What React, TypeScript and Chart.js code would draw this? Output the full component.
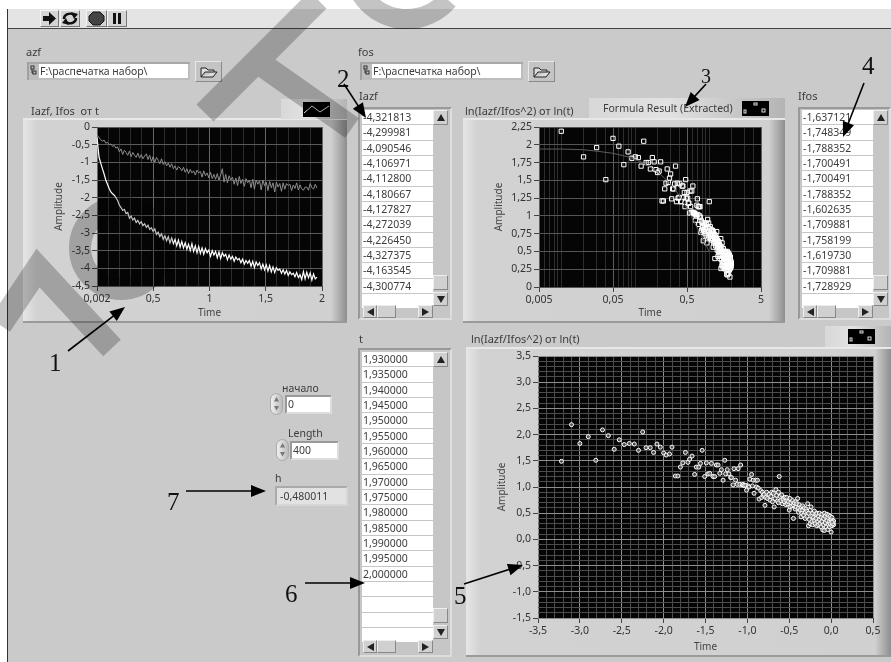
import React, { useEffect, useRef } from "react";
import { Chart, registerables } from "chart.js";
Chart.register(...registerables);

// ---------- data: first graph ----------
const timeValues = [
  0.002,0.02,0.035,0.05,0.065,0.08,0.095,0.11,0.125,0.14,
  0.155,0.17,0.185,0.2,0.215,0.23,0.245,0.26,0.275,0.29,
  0.305,0.32,0.335,0.35,0.365,0.38,0.395,0.41,0.425,0.44,
  0.455,0.47,0.485,0.5,0.515,0.53,0.545,0.56,0.575,0.59,
  0.605,0.62,0.635,0.65,0.665,0.68,0.695,0.71,0.725,0.74,
  0.755,0.77,0.785,0.8,0.815,0.83,0.845,0.86,0.875,0.89,
  0.905,0.92,0.935,0.95,0.965,0.98,0.995,1.01,1.025,1.04,
  1.055,1.07,1.085,1.1,1.115,1.13,1.145,1.16,1.175,1.19,
  1.205,1.22,1.235,1.25,1.265,1.28,1.295,1.31,1.325,1.34,
  1.355,1.37,1.385,1.4,1.415,1.43,1.445,1.46,1.475,1.49,
  1.505,1.52,1.535,1.55,1.565,1.58,1.595,1.61,1.625,1.64,
  1.655,1.67,1.685,1.7,1.715,1.73,1.745,1.76,1.775,1.79,
  1.805,1.82,1.835,1.85,1.865,1.88,1.895,1.91,1.925,1.94,
  1.955,
];
const iazfCurve = [
  -0.30,-0.85,-1.02,-1.18,-1.33,-1.50,-1.62,-1.74,-1.84,-1.89,
  -1.93,-2.0,-2.08,-2.21,-2.28,-2.36,-2.33,-2.45,-2.42,-2.58,
  -2.52,-2.63,-2.58,-2.70,-2.64,-2.74,-2.68,-2.79,-2.74,-2.84,
  -2.78,-2.90,-2.85,-2.95,-2.88,-3.04,-2.98,-3.10,-3.02,-3.18,
  -3.08,-3.22,-3.10,-3.28,-3.14,-3.30,-3.18,-3.36,-3.20,-3.40,
  -3.24,-3.42,-3.28,-3.46,-3.32,-3.50,-3.30,-3.52,-3.36,-3.56,
  -3.38,-3.58,-3.42,-3.60,-3.44,-3.56,-3.48,-3.66,-3.50,-3.62,
  -3.52,-3.70,-3.54,-3.72,-3.56,-3.66,-3.60,-3.76,-3.62,-3.74,
  -3.66,-3.80,-3.68,-3.76,-3.72,-3.84,-3.74,-3.88,-3.78,-3.86,
  -3.78,-3.94,-3.80,-3.98,-3.82,-3.92,-3.84,-4.02,-3.88,-4.04,
  -3.90,-4.08,-3.92,-4.10,-3.96,-4.12,-3.98,-4.06,-4.02,-4.14,
  -4.04,-4.16,-4.06,-4.20,-4.10,-4.18,-4.14,-4.24,-4.12,-4.26,
  -4.18,-4.32,-4.09,-4.30,-4.11,-4.27,-4.13,-4.33,-4.16,-4.30,
  -4.25,
];
const ifosCurve = [
  -0.22,-0.30,-0.36,-0.40,-0.37,-0.46,-0.43,-0.50,-0.48,-0.55,
  -0.52,-0.60,-0.56,-0.70,-0.62,-0.78,-0.66,-0.72,-0.80,-0.68,
  -0.84,-0.72,-0.80,-0.86,-0.74,-0.88,-0.78,-0.90,-0.82,-0.76,
  -0.92,-0.80,-0.98,-0.84,-1.0,-0.86,-0.94,-1.04,-0.90,-1.06,
  -0.98,-1.10,-1.02,-1.14,-1.04,-1.18,-1.10,-1.22,-1.12,-1.16,
  -1.24,-1.14,-1.28,-1.18,-1.32,-1.20,-1.30,-1.24,-1.36,-1.22,
  -1.30,-1.26,-1.42,-1.24,-1.38,-1.30,-1.44,-1.28,-1.46,-1.34,
  -1.48,-1.32,-1.50,-1.36,-1.18,-1.56,-1.34,-1.58,-1.38,-1.50,
  -1.42,-1.62,-1.44,-1.66,-1.40,-1.60,-1.48,-1.68,-1.46,-1.58,
  -1.50,-1.72,-1.48,-1.76,-1.50,-1.62,-1.52,-1.78,-1.50,-1.66,
  -1.56,-1.80,-1.54,-1.72,-1.58,-1.84,-1.56,-1.70,-1.60,-1.82,
  -1.58,-1.76,-1.60,-1.66,-1.62,-1.80,-1.64,-1.74,-1.58,-1.78,
  -1.64,-1.75,-1.79,-1.70,-1.70,-1.79,-1.60,-1.71,-1.76,-1.62,
  -1.73,
];
const graph1XTicks = [0.002,0.1,0.2,0.3,0.4,0.5,0.6,0.7,0.8,0.9,1,1.1,1.2,1.3,1.4,1.5,1.6,1.7,1.8,1.9,2];
const graph1XMajor = [0.002,0.5,1,1.5,2];
const graph1YTicks = [0,-0.5,-1,-1.5,-2,-2.5,-3,-3.5,-4,-4.5];

// ---------- data: the two scatter graphs share their amplitudes ----------
const ratioValues = [
  1.49,2.19,1.83,1.96,1.51,2.09,1.98,1.72,1.90,1.81,
  1.83,1.82,1.70,2.05,1.75,1.75,1.66,1.82,1.76,1.65,
  1.61,1.63,1.76,1.21,1.21,1.38,1.46,1.66,1.47,1.53,
  1.59,1.24,1.38,1.38,1.45,1.70,1.20,1.46,1.25,1.26,
  1.45,1.20,1.20,1.42,1.42,1.26,1.33,1.13,1.51,1.25,
  1.33,1.25,1.18,1.18,1.04,1.35,1.13,1.05,1.35,1.05,
  1.42,1.04,1.05,1.03,1.03,0.94,1.02,1.00,1.15,1.24,
  1.02,1.13,0.88,1.13,1.00,1.13,0.98,0.77,0.93,0.80,
  0.90,0.84,0.86,0.65,0.80,0.90,0.78,0.86,0.75,0.82,
  0.90,0.72,0.88,0.62,0.78,0.95,0.84,0.73,0.90,0.70,
  1.20,0.82,0.74,0.85,0.68,0.76,0.72,0.80,0.66,0.74,
  0.80,0.68,0.72,0.56,0.78,0.62,0.70,0.64,0.74,0.40,
  0.66,0.70,0.58,0.72,0.62,0.68,0.78,0.60,0.52,0.66,
  0.56,0.43,0.62,0.50,0.64,0.56,0.46,0.60,0.52,0.40,
  0.58,0.44,0.54,0.68,0.26,0.50,0.38,0.56,0.30,0.62,
  0.44,0.34,0.50,0.28,0.42,0.54,0.36,0.30,0.48,0.40,
  0.26,0.50,0.34,0.44,0.28,0.38,0.50,0.30,0.42,0.24,
  0.48,0.34,0.18,0.40,0.28,0.50,0.17,0.44,0.32,0.24,
  0.48,0.36,0.19,0.42,0.28,0.46,0.34,0.24,0.44,0.30,
  0.14,0.38,0.26,0.42,0.32,0.36,0.28,0.35,0.30,0.33,
];
const lnTimeValues = [
  -3.22,-3.10,-3.00,-2.90,-2.81,-2.73,-2.66,-2.59,-2.53,-2.47,
  -2.41,-2.35,-2.30,-2.25,-2.21,-2.16,-2.12,-2.08,-2.04,-2.00,
  -1.97,-1.93,-1.90,-1.86,-1.83,-1.80,-1.77,-1.74,-1.71,-1.69,
  -1.66,-1.63,-1.61,-1.58,-1.56,-1.54,-1.51,-1.49,-1.47,-1.45,
  -1.43,-1.41,-1.39,-1.37,-1.35,-1.33,-1.31,-1.29,-1.27,-1.26,
  -1.24,-1.22,-1.20,-1.19,-1.17,-1.16,-1.14,-1.12,-1.11,-1.09,
  -1.08,-1.06,-1.05,-1.04,-1.02,-1.01,-0.99,-0.98,-0.97,-0.95,
  -0.94,-0.93,-0.92,-0.90,-0.89,-0.88,-0.87,-0.86,-0.84,-0.83,
  -0.82,-0.81,-0.80,-0.79,-0.78,-0.77,-0.76,-0.74,-0.73,-0.72,
  -0.71,-0.70,-0.69,-0.68,-0.67,-0.66,-0.65,-0.64,-0.63,-0.63,
  -0.62,-0.61,-0.60,-0.59,-0.58,-0.57,-0.56,-0.55,-0.54,-0.53,
  -0.53,-0.52,-0.51,-0.50,-0.49,-0.49,-0.48,-0.47,-0.46,-0.45,
  -0.45,-0.44,-0.43,-0.42,-0.42,-0.41,-0.40,-0.39,-0.39,-0.38,
  -0.37,-0.36,-0.36,-0.35,-0.34,-0.34,-0.33,-0.32,-0.31,-0.31,
  -0.30,-0.29,-0.29,-0.28,-0.27,-0.27,-0.26,-0.25,-0.25,-0.24,
  -0.23,-0.23,-0.22,-0.22,-0.21,-0.20,-0.20,-0.19,-0.18,-0.18,
  -0.17,-0.17,-0.16,-0.15,-0.15,-0.14,-0.14,-0.13,-0.12,-0.12,
  -0.11,-0.11,-0.10,-0.09,-0.09,-0.08,-0.08,-0.07,-0.07,-0.06,
  -0.05,-0.05,-0.04,-0.04,-0.03,-0.03,-0.02,-0.02,-0.01,-0.01,
  0,0,0.01,0.01,0.02,0.02,0.03,0.03,0.02,0.01,
];
const logTimeValues = [
  null,0.01,0.02,0.03,0.04,0.05,0.06,0.07,0.08,0.09,
  0.1,0.11,0.12,0.13,0.14,0.15,0.16,0.17,0.18,0.19,
  0.2,0.21,0.22,0.23,0.24,0.25,0.26,0.27,0.28,0.29,
  0.3,0.31,0.32,0.33,0.34,0.35,0.36,0.37,0.38,0.39,
  0.4,0.41,0.42,0.43,0.44,0.45,0.46,0.47,0.48,0.49,
  0.5,0.51,0.52,0.53,0.54,0.55,0.56,0.57,0.58,0.59,
  0.6,0.61,0.62,0.63,0.64,0.65,0.66,0.67,0.68,0.69,
  0.7,0.71,0.72,0.73,0.74,0.75,0.76,0.77,0.78,0.79,
  0.8,0.81,0.82,0.83,0.84,0.85,0.86,0.87,0.88,0.89,
  0.9,0.91,0.92,0.93,0.94,0.95,0.96,0.97,0.98,0.99,
  1,1.01,1.02,1.03,1.04,1.05,1.06,1.07,1.08,1.09,
  1.1,1.11,1.12,1.13,1.14,1.15,1.16,1.17,1.18,1.19,
  1.2,1.21,1.22,1.23,1.24,1.25,1.26,1.27,1.28,1.29,
  1.3,1.31,1.32,1.33,1.34,1.35,1.36,1.37,1.38,1.39,
  1.4,1.41,1.42,1.43,1.44,1.45,1.46,1.47,1.48,1.49,
  1.5,1.51,1.52,1.53,1.54,1.55,1.56,1.57,1.58,1.59,
  1.6,1.61,1.62,1.63,1.64,1.65,1.66,1.67,1.68,1.69,
  1.7,1.71,1.72,1.73,1.74,1.75,1.76,1.77,1.78,1.79,
  1.8,1.81,1.82,1.83,1.84,1.85,1.86,1.87,1.88,1.89,
  1.9,1.91,1.92,1.93,1.94,1.95,1.96,1.97,1.98,1.99,
];
const fitTime = [0.005,0.01,0.02,0.03,0.05,0.08,0.12,0.2,0.3,0.4,0.6,1];
const fitValues = [1.94,1.94,1.93,1.91,1.88,1.83,1.76,1.62,1.45,1.28,0.95,0.5];
const graph2XTicks = [0.005,0.006,0.007,0.008,0.009,0.01,0.02,0.03,0.04,0.05,0.06,0.07,0.08,0.09,0.1,0.2,0.3,0.4,0.5,0.6,0.7,0.8,0.9,1,2,3,4,5];
const graph2XMajor = [0.005,0.05,0.5,5];
const graph2YTicks = [0,0.25,0.5,0.75,1,1.25,1.5,1.75,2,2.25];
const graph3XTicks = [-3.5,-3.4,-3.3,-3.2,-3.1,-3,-2.9,-2.8,-2.7,-2.6,-2.5,-2.4,-2.3,-2.2,-2.1,-2,-1.9,-1.8,-1.7,-1.6,-1.5,-1.4,-1.3,-1.2,-1.1,-1,-0.9,-0.8,-0.7,-0.6,-0.5,-0.4,-0.3,-0.2,-0.1,0,0.1,0.2,0.3,0.4,0.5];
const graph3XMajor = [-3.5,-3,-2.5,-2,-1.5,-1,-0.5,0,0.5];
const graph3YTicks = [3.5,3.4,3.3,3.2,3.1,3,2.9,2.8,2.7,2.6,2.5,2.4,2.3,2.2,2.1,2,1.9,1.8,1.7,1.6,1.5,1.4,1.3,1.2,1.1,1,0.9,0.8,0.7,0.6,0.5,0.4,0.3,0.2,0.1,0,-0.1,-0.2,-0.3,-0.4,-0.5,-0.6,-0.7,-0.8,-0.9,-1,-1.1,-1.2,-1.3,-1.4,-1.5];
const graph3YMajor = [3.5,3,2.5,2,1.5,1,0.5,0,-0.5,-1,-1.5];

// ---------- data: table contents ----------
const iazfRows = ["-4,321813","-4,299981","-4,090546","-4,106971","-4,112800","-4,180667","-4,127827","-4,272039","-4,226450","-4,327375","-4,163545","-4,300774",""];
const ifosRows = ["-1,637121","-1,748349","-1,788352","-1,700491","-1,700491","-1,788352","-1,602635","-1,709881","-1,758199","-1,619730","-1,709881","-1,728929",""];
const tRows = ["1,930000","1,935000","1,940000","1,945000","1,950000","1,955000","1,960000","1,965000","1,970000","1,975000","1,980000","1,985000","1,990000","1,995000","2,000000","","","",""];

const UI = '"Noto Sans", sans-serif';
const near = (list: number[], v: number) => list.some((m) => Math.abs(m - v) < 1e-6);
const comma = (v: number) => String(v).replace(".", ",");

const plotBg = {
  id: "plotBg",
  beforeDraw(c: any) {
    const a = c.chartArea;
    c.ctx.save();
    c.ctx.fillStyle = "#050505";
    c.ctx.fillRect(a.left, a.top, a.right - a.left, a.bottom - a.top);
    c.ctx.restore();
  },
};

function axis(opts: any) {
  const { pos, type, min, max, ticks, major, label, title, size, majorColor, minorColor, pad } = opts;
  return {
    type, position: pos, min, max,
    afterBuildTicks(s: any) { s.ticks = ticks.map((value: number) => ({ value })); },
    afterFit(s: any) { if (pos === "left") s.width = size; else s.height = size; },
    title: { display: true, text: title, color: "#444", padding: pad ?? { top: 2, bottom: 0 }, font: { family: UI, size: 10 } },
    border: { display: false },
    grid: {
      color: (c: any) => (near(major, c.tick?.value) ? majorColor : minorColor),
      tickColor: (c: any) => (near(major, c.tick?.value) ? "#444" : "rgba(0,0,0,0)"),
      tickLength: 5,
      lineWidth: 1,
    },
    ticks: {
      autoSkip: false, maxRotation: 0, minRotation: 0, padding: 2, color: "#333",
      font: { family: UI, size: 10.5 },
      callback: (v: any) => (near(major, Number(v)) ? label(Number(v)) : ""),
    },
  };
}

function baseOptions(padding: any, x: any, y: any) {
  return {
    animation: false, responsive: false,
    layout: { padding },
    plugins: { legend: { display: false }, tooltip: { enabled: false }, title: { display: false } },
    scales: { x, y },
  };
}

function PlotCanvas({ left, top, width, height, config }: any) {
  const ref = useRef<HTMLCanvasElement>(null);
  useEffect(() => {
    const chart = new Chart(ref.current as any, config);
    return () => chart.destroy();
  }, []);
  return <canvas ref={ref} width={width} height={height} style={{ position: "absolute", left, top, width, height }} />;
}

const graph1Config: any = {
  type: "line",
  plugins: [plotBg],
  data: {
    datasets: [
      { data: timeValues.map((x, i) => ({ x, y: ifosCurve[i] })), borderColor: "#8c8c8c", borderWidth: 1, pointRadius: 0, tension: 0 },
      { data: timeValues.map((x, i) => ({ x, y: iazfCurve[i] })), borderColor: "#ffffff", borderWidth: 1.2, pointRadius: 0, tension: 0 },
    ],
  },
  options: baseOptions(
    { left: 28, right: 25, top: 9, bottom: 4 },
    axis({ pos: "bottom", type: "linear", min: 0.002, max: 2, ticks: graph1XTicks, major: graph1XMajor, label: comma, title: "Time", size: 33, majorColor: "#666", minorColor: "#2c2c2c" }),
    axis({ pos: "left", type: "linear", min: -4.5, max: 0, ticks: graph1YTicks, major: graph1YTicks, label: comma, title: "Amplitude", size: 46, majorColor: "#5a5a5a", minorColor: "#5a5a5a" }),
  ),
};

const graph2Config: any = {
  type: "scatter",
  plugins: [plotBg],
  data: {
    datasets: [
      { type: "line", data: fitTime.map((x, i) => ({ x, y: fitValues[i] })), borderColor: "#5c5c5c", borderWidth: 1, pointRadius: 0, tension: 0 },
      { data: ratioValues.map((y, i) => ({ x: logTimeValues[i], y })), pointStyle: "rect", pointRadius: 3, borderColor: "#ffffff", borderWidth: 1, backgroundColor: "rgba(0,0,0,0)" },
    ],
  },
  options: baseOptions(
    { left: 28, right: 24, top: 9, bottom: 4 },
    axis({ pos: "bottom", type: "logarithmic", min: 0.005, max: 5, ticks: graph2XTicks, major: graph2XMajor, label: comma, title: "Time", size: 32, majorColor: "#5e5e5e", minorColor: "#2e2e2e" }),
    axis({ pos: "left", type: "linear", min: 0, max: 2.25, ticks: graph2YTicks, major: graph2YTicks, label: comma, title: "Amplitude", size: 48, majorColor: "#555", minorColor: "#555" }),
  ),
};

const graph3Config: any = {
  type: "scatter",
  plugins: [plotBg],
  data: {
    datasets: [
      { data: ratioValues.map((y, i) => ({ x: lnTimeValues[i], y })), pointStyle: "circle", pointRadius: 2, borderColor: "#ffffff", borderWidth: 1, backgroundColor: "rgba(100,100,100,0.7)" },
    ],
  },
  options: baseOptions(
    { left: 28, right: 18, top: 9, bottom: 4 },
    axis({ pos: "bottom", type: "linear", min: -3.5, max: 0.5, ticks: graph3XTicks, major: graph3XMajor, label: (v: number) => v.toFixed(1).replace(".", ","), title: "Time", size: 35, majorColor: "#8e8e8e", minorColor: "#4c4c4c" }),
    axis({ pos: "left", type: "linear", min: -1.5, max: 3.5, ticks: graph3YTicks, major: graph3YMajor, label: (v: number) => v.toFixed(1).replace(".", ","), title: "Amplitude", size: 44, majorColor: "#8e8e8e", minorColor: "#4c4c4c" }),
  ),
};

// ---------- front-panel pieces ----------
const abs = (left: number, top: number, width: number, height: number, extra: any = {}) => ({ position: "absolute", left, top, width, height, boxSizing: "border-box", ...extra });

function Label({ x, y, text, size = 11, color = "#3c3c3c" }: any) {
  return <div style={{ position: "absolute", left: x, top: y, font: `${size}px ${UI}`, lineHeight: "14px", color, whiteSpace: "pre" } as any}>{text}</div>;
}

function Panel({ x, y, w, h }: any) {
  return <div style={abs(x, y, w, h, { background: "linear-gradient(90deg,#e6e6e6 0,#d2d2d2 14px,#d0d0d0 calc(100% - 16px),#8e8e8e 100%)", borderTop: "2px solid #e8e8e8", borderBottom: "2px solid #9a9a9a" }) as any} />;
}

function LegendTab({ x, y, w, h, text, boxX, scatter }: any) {
  return (
    <div style={abs(x, y, w, h, { background: "linear-gradient(90deg,#d8d8d8,#e2e2e2 40%,#b4b4b4)", font: `10.5px ${UI}`, color: "#3c3c3c", lineHeight: h + "px", paddingLeft: 14 }) as any}>
      {text}
      <svg style={{ position: "absolute", left: boxX - x, top: 3, background: "#000" }} width={27} height={15}>
        {scatter ? (
          <g fill="none" stroke="#ddd"><rect x="20" y="8" width="3" height="3" /><rect x="12" y="2" width="3" height="2" /><rect x="2" y="9" width="2" height="3" /></g>
        ) : (
          <polyline points="1,11 9,4 17,10 26,4" fill="none" stroke="#ddd" />
        )}
      </svg>
    </div>
  );
}

function PathBox({ x, y }: any) {
  return (
    <>
      <div style={abs(x, y, 163, 18, { background: "#bdbdbd", borderLeft: "2px solid #a0a0a0", borderTop: "2px solid #a8a8a8" }) as any} />
      <div style={abs(x + 12, y + 2, 149, 14, { background: "#fff", font: `10.5px ${UI}`, color: "#3c3c3c", lineHeight: "14px", paddingLeft: 1, whiteSpace: "pre" }) as any}>F:\распечатка набор\</div>
      <svg style={{ position: "absolute", left: x + 3, top: y + 3 }} width={8} height={11}><g fill="none" stroke="#333"><rect x="1" y="1" width="3" height="3" /><rect x="3" y="6" width="3" height="3" /><path d="M2 4V8H3" /></g></svg>
      <div style={abs(x + 168, y - 1, 27, 21, { background: "#c4c4c4", borderTop: "1px solid #e8e8e8", borderLeft: "1px solid #e8e8e8", borderRight: "1px solid #8a8a8a", borderBottom: "1px solid #8a8a8a" }) as any}>
        <svg style={{ position: "absolute", left: 4, top: 4 }} width={18} height={12}><path d="M1 11V2H6L8 4H14V6H5L1 11H13L17 6H14" fill="#ddd" stroke="#222" /></svg>
      </div>
    </>
  );
}

function Tri({ x, y, dir, fill = "#222", size = 8 }: any) {
  const pts = dir === "up" ? "0,7 4,0 8,7" : dir === "down" ? "0,0 8,0 4,7" : dir === "left" ? "7,0 7,8 0,4" : "0,0 0,8 7,4";
  return <svg style={{ position: "absolute", left: x, top: y }} width={size} height={size} viewBox="0 0 8 8"><polygon points={pts} fill={fill} /></svg>;
}

function ListBox({ x, y, h, rows, rowsTop, thumbY, downY, hbarY, w = 94 }: any) {
  const btn = (l: number, t: number, ww: number, hh: number) => abs(l, t, ww, hh, { background: "#d0d0d0", borderTop: "1px solid #eee", borderLeft: "1px solid #eee", borderRight: "1px solid #888", borderBottom: "1px solid #888" });
  return (
    <>
      <div style={abs(x, y, w, h, { background: "#c6c6c6", borderTop: "2px solid #999", borderLeft: "2px solid #999", borderRight: "2px solid #ddd", borderBottom: "2px solid #ddd" }) as any} />
      {rows.map((t: string, i: number) => (
        <div key={i} style={abs(x + 4, rowsTop + i * 15.33, 71, 14.3, { background: "#fff", font: `10.5px ${UI}`, color: "#3c3c3c", lineHeight: "14px", paddingLeft: 1 }) as any}>{t}</div>
      ))}
      <div style={btn(x + 75, rowsTop, 15, 15) as any} /><Tri x={x + 79} y={rowsTop + 4} dir="up" />
      <div style={btn(x + 75, thumbY, 15, 15) as any} />
      <div style={btn(x + 75, downY, 15, 14) as any} /><Tri x={x + 79} y={downY + 4} dir="down" />
      <div style={btn(x + 5, hbarY, 14, 13) as any} /><Tri x={x + 9} y={hbarY + 3} dir="left" />
      <div style={btn(x + 19, hbarY, 19, 13) as any} />
      <div style={btn(x + 60, hbarY, 15, 13) as any} /><Tri x={x + 64} y={hbarY + 3} dir="right" />
    </>
  );
}

function NumBox({ x, y, w, text, spinX }: any) {
  return (
    <>
      <div style={abs(spinX, y - 2, 13, 22, { borderRadius: "7px", background: "linear-gradient(90deg,#f0f0f0,#bbb)", border: "1px solid #aaa" }) as any} />
      <Tri x={spinX + 4} y={y + 2} dir="up" fill="#777" size={5} />
      <Tri x={spinX + 4} y={y + 11} dir="down" fill="#777" size={5} />
      <div style={abs(x, y, w, 19, { background: "#fff", borderTop: "2px solid #999", borderLeft: "2px solid #999", borderRight: "2px solid #ddd", borderBottom: "2px solid #ddd", font: `10.5px ${UI}`, color: "#3c3c3c", lineHeight: "15px", paddingLeft: 1 }) as any}>{text}</div>
    </>
  );
}

function ToolBtn({ x, w, children }: any) {
  return <div style={abs(x, 10, w, 17, { background: "#d4d4d4", borderTop: "1px solid #f4f4f4", borderLeft: "1px solid #f4f4f4", borderRight: "1px solid #777", borderBottom: "1px solid #777" }) as any}>{children}</div>;
}

function Watermark() {
  return (
    <svg style={{ position: "absolute", left: 0, top: 0, mixBlendMode: "multiply" } as any} width={891} height={662}>
      <g fill="none" stroke="#c4c4c4">
        <path d="M205 113L318 0" strokeWidth={24} />
        <path d="M258 62L352 128" strokeWidth={24} />
        <circle cx={121} cy={248} r={41} strokeWidth={22} />
        <path d="M0 325L38 268L112 348" strokeWidth={24} />
        <path d="M360 -8A54 54 0 0 0 448 0" strokeWidth={20} />
      </g>
    </svg>
  );
}

function Annotations() {
  const serif: any = { fontFamily: '"Liberation Serif", serif', fontSize: 25, fill: "#111" };
  const arrow = (x1: number, y1: number, x2: number, y2: number, head = 15) => {
    const a = Math.atan2(y2 - y1, x2 - x1);
    const p = (d: number, s: number) => `${x2 - Math.cos(a) * d - Math.sin(a) * s},${y2 - Math.sin(a) * d + Math.cos(a) * s}`;
    return (
      <g>
        <line x1={x1} y1={y1} x2={x2 - Math.cos(a) * head * 0.8} y2={y2 - Math.sin(a) * head * 0.8} stroke="#000" strokeWidth={1.6} />
        <polygon points={`${x2},${y2} ${p(head, 6)} ${p(head, -6)}`} fill="#000" />
      </g>
    );
  };
  return (
    <svg style={{ position: "absolute", left: 0, top: 0 }} width={891} height={662}>
      <text x={49} y={371} style={serif}>1</text>{arrow(68, 351, 125, 307)}
      <text x={337} y={87} style={serif}>2</text>{arrow(344, 84, 366, 118)}
      <text x={701} y={83} style={{ ...serif, fontSize: 20 }}>3</text>{arrow(706, 84, 685, 107)}
      <text x={862} y={74} style={serif}>4</text>{arrow(864, 83, 843, 137)}
      <text x={454} y={604} style={serif}>5</text>{arrow(464, 584, 523, 565)}
      <text x={285} y={602} style={serif}>6</text>{arrow(305, 583, 365, 583)}
      <text x={167} y={510} style={serif}>7</text>{arrow(186, 491, 266, 491)}
    </svg>
  );
}

export default function App() {
  return (
    <div style={{ position: "absolute", left: 0, top: 0, width: 891, height: 662, overflow: "hidden", background: "#fff", filter: "blur(0.45px) grayscale(1)" }}>
      <div style={abs(7, 9, 884, 653, { background: "#cacaca", borderLeft: "1.5px solid #333" }) as any} />
      <div style={abs(8, 9, 883, 20, { background: "#e4e4e4", borderBottom: "1px solid #444" }) as any} />
      <ToolBtn x={40} w={19}><svg width={17} height={15}><path d="M2 5H8V1L15 7.5L8 14V10H2Z" fill="#111" /></svg></ToolBtn>
      <ToolBtn x={60} w={20}><svg width={18} height={15}><g fill="none" stroke="#111" strokeWidth={2.4}><path d="M3 8A6 5 0 0 1 13 4" /><path d="M15 7A6 5 0 0 1 5 11" /></g><path d="M10 1L17 3L13 8Z M8 14L1 12L5 7Z" fill="#111" /></svg></ToolBtn>
      <ToolBtn x={86} w={21}><svg width={19} height={15}><polygon points="6,1 13,1 17,5 17,10 13,14 6,14 2,10 2,5" fill="#444" stroke="#111" /></svg></ToolBtn>
      <ToolBtn x={107} w={20}><svg width={18} height={15}><rect x="5" y="2" width="3" height="11" fill="#111" /><rect x="10" y="2" width="3" height="11" fill="#111" /></svg></ToolBtn>

      <Label x={26} y={45} text="azf" />
      <PathBox x={27} y={62} />
      <Label x={358} y={45} text="fos" />
      <PathBox x={360} y={62} />

      <Label x={31} y={104} text="Iazf, Ifos  от t" />
      <Panel x={23} y={118} w={324} h={205} />
      <LegendTab x={281} y={99} w={66} h={20} boxX={303} />
      <PlotCanvas left={23} top={118} width={324} height={205} config={graph1Config} />

      <Label x={359} y={89} text="Iazf" />
      <ListBox x={358} y={107} h={213} rows={iazfRows} rowsTop={110} thumbY={275} downY={292} hbarY={305} />

      <Label x={465} y={104} text="ln(Iazf/Ifos^2) от ln(t)" />
      <Panel x={463} y={118} w={322} h={205} />
      <LegendTab x={589} y={98} w={196} h={20} text="Formula Result (Extracted)" boxX={742} scatter />
      <PlotCanvas left={463} top={118} width={322} height={205} config={graph2Config} />

      <Label x={798} y={89} text="Ifos" />
      <ListBox x={798} y={107} h={213} rows={ifosRows} rowsTop={110} thumbY={275} downY={292} hbarY={305} w={93} />

      <Label x={359} y={332} text="t" />
      <ListBox x={358} y={348} h={309} rows={tRows} rowsTop={352} thumbY={608} downY={625} hbarY={640} />

      <Label x={471} y={332} text="ln(Iazf/Ifos^2) от ln(t)" />
      <Panel x={466} y={347} w={425} h={310} />
      <LegendTab x={825} y={326} w={66} h={21} boxX={848} scatter />
      <PlotCanvas left={466} top={347} width={425} height={310} config={graph3Config} />

      <Label x={282} y={381} text="начало" size={10.5} />
      <NumBox x={285} y={395} w={47} text="0" spinX={270} />
      <Label x={288} y={426} text="Length" size={10.5} />
      <NumBox x={290} y={441} w={49} text="400" spinX={276} />
      <Label x={275} y={471} text="h" size={10.5} />
      <div style={abs(275, 486, 73, 20, { background: "#e2e2e2", borderTop: "2px solid #aaa", borderLeft: "2px solid #aaa", borderRight: "2px solid #d6d6d6", borderBottom: "2px solid #d6d6d6", font: `10.5px ${UI}`, color: "#3c3c3c", lineHeight: "16px", paddingLeft: 3 }) as any}>-0,480011</div>

      <Watermark />
      <Annotations />
    </div>
  );
}
